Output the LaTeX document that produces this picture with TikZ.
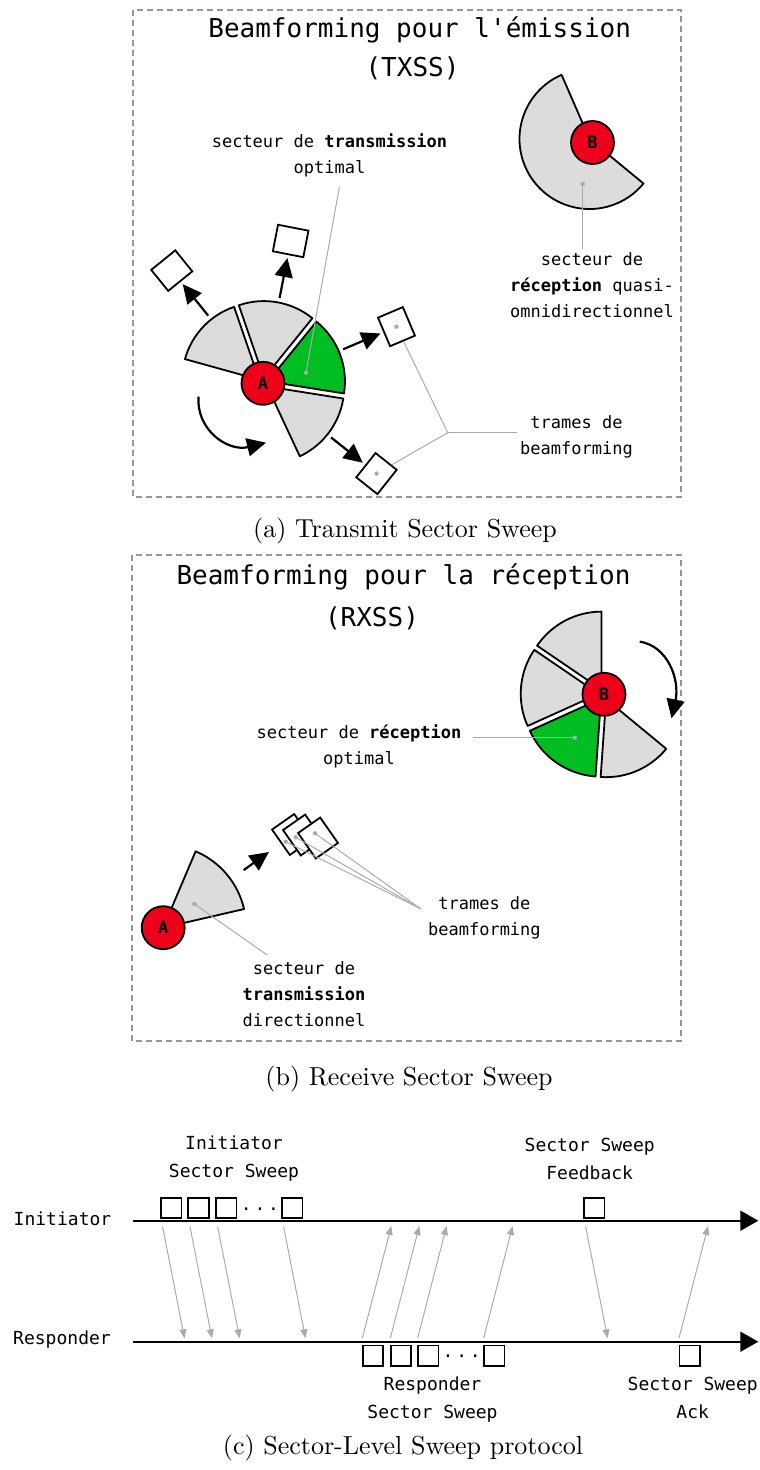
\documentclass[tikz,border=0pt]{standalone}
\usepackage{fontspec}
\setmonofont{DejaVu Sans Mono}
\newfontfamily\capfont{lmroman10-regular.otf}
\usetikzlibrary{positioning, arrows.meta, calc}
\definecolor{SectorGray}{RGB}{220,220,220}
\definecolor{SectorGreen}{RGB}{0,190,34}
\definecolor{StationRed}{RGB}{238,0,26}
\definecolor{LeaderGray}{RGB}{170,170,170}
\definecolor{PanelGray}{RGB}{150,150,150}
\tikzstyle{panel} = [PanelGray, line width=1.4pt, dash pattern=on 6pt off 4pt]
\tikzstyle{sector} = [draw=black, line width=1.8pt, line join=round]
\tikzstyle{station} = [circle, draw=black, line width=1.8pt, fill=StationRed, minimum size=43pt, inner sep=0pt, font=\ttfamily\bfseries\fontsize{17}{17}\selectfont]
\tikzstyle{trame} = [draw=black, line width=1.8pt, fill=white, minimum width=27pt, minimum height=31pt, inner sep=0pt]
\tikzstyle{slot} = [draw=black, line width=1.8pt, fill=white, minimum size=20.5pt, inner sep=0pt]
\tikzstyle{beam} = [line width=2.2pt, -{Triangle[length=19pt,width=18pt]}]
\tikzstyle{leader} = [LeaderGray, line width=1pt]
\tikzstyle{msg} = [LeaderGray, line width=1pt, -{Triangle[length=9pt,width=7pt]}]
\tikzstyle{timeline} = [line width=2pt, -{Triangle[length=18pt,width=20pt]}]
\tikzstyle{title} = [font=\ttfamily\fontsize{26}{38}\selectfont, inner sep=0pt]
\tikzstyle{lbl} = [font=\ttfamily\fontsize{17}{26}\selectfont, align=center]
\tikzstyle{tlbl} = [font=\ttfamily\fontsize{18}{28}\selectfont, align=center]
\tikzstyle{caption} = [font=\capfont\fontsize{26}{31}\selectfont]

\begin{document}
\begin{tikzpicture}[x=1pt, y=1pt]
    \useasboundingbox (0,0) rectangle (760,-1470);

    % (a) Transmit Sector Sweep
    \draw[panel] (133,-10) rectangle (681,-497);
    \node[title] (titleTx) at (419.7,-30) {Beamforming pour l'émission};
    \node[title] (modeTx) at (412.5,-68.3) {(TXSS)};

    % Station A and its sectors
    \coordinate (A) at (263,-383.3);
    \foreach \from/\to/\col in {109/164.5/SectorGray, 51/109/SectorGray, -9/51/SectorGreen, -65/-9/SectorGray}
        \draw[sector, fill=\col] ($(A)+({(\from+\to)/2}:5.3)$) -- ++(\from:77) arc[start angle=\from, end angle=\to, radius=77] -- cycle;
    \node[station] (stA) at (A) {A};

    % Beamforming frames
    \foreach \ang [count=\i] in {129, 79, 23, -38.5} {
        \node[trame, rotate=\ang] (fa\i) at ($(A)+(\ang:145)$) {};
        \draw[beam, shorten >=3pt] ($(A)+(\ang:87)$) -- (fa\i);
    }

    % Sweep direction
    \draw[beam] (198.6,-396.7) .. controls (196,-430) and (228,-452) .. (266,-442.7);

    % Station B, quasi-omni sector
    \coordinate (B) at (592.5,-142.5);
    \draw[sector, fill=SectorGray] ($(B)+(-3,3.5)$) -- ++(113.5:70) arc[start angle=113.5, end angle=320.5, radius=70] -- cycle;
    \node[station] (stB) at (B) {B};

    % Labels
    \coordinate (optPin) at ($(A)+(43,10.7)$);
    \node[lbl] (optTx) at (329.5,-155.8) {secteur de \textbf{transmission}\\optimal};
    \coordinate (optEnd) at (339.4,-186.7);
    \draw[leader] (optPin) -- (optEnd);
    \fill[LeaderGray] (optPin) circle (2.2);

    \coordinate (rxPin) at (582.7,-184);
    \node[lbl] (rxTx) at (592,-285) {secteur de\\\textbf{réception} quasi-\\omnidirectionnel};
    \draw[leader] (rxPin) -- (rxPin |- rxTx.north);
    \fill[LeaderGray] (rxPin) circle (2.2);

    \node[lbl] (tramesTx) at (576.5,-436.7) {trames de\\beamforming};
    \coordinate (tramesTxJ) at (447.7,-432.7);
    \draw[leader] (fa3) -- (tramesTxJ) -- (fa4);
    \draw[leader] (tramesTxJ) -- (tramesTxJ -| tramesTx.west);
    \fill[LeaderGray] (fa3) circle (2.2);
    \fill[LeaderGray] (fa4) circle (2.2);

    \node[caption] (capTx) at (405,-531) {(a) Transmit Sector Sweep};

    % (b) Receive Sector Sweep
    \draw[panel] (132,-555) rectangle (681,-1041);
    \node[title] (titleRx) at (403.5,-576.7) {Beamforming pour la réception};
    \node[title] (modeRx) at (372,-618.3) {(RXSS)};

    % Station B and its sectors
    \coordinate (B2) at (604,-694.3);
    \foreach \from/\to/\col in {90/145.7/SectorGray, 145.7/204.3/SectorGray, 204.3/266/SectorGreen, 266/320.5/SectorGray}
        \draw[sector, fill=\col] ($(B2)+({(\from+\to)/2}:5.3)$) -- ++(\from:78) arc[start angle=\from, end angle=\to, radius=78] -- cycle;
    \node[station] (stB2) at (B2) {B};
    \draw[beam] (639.7,-641.6) .. controls (668,-646) and (680,-680) .. (671.5,-718.3);

    \coordinate (rxOptPin) at (574.8,-737.7);
    \node[lbl] (rxOpt) at (359,-746) {secteur de \textbf{réception}\\optimal};
    \draw[leader] (rxOptPin) -- ($(rxOpt.east |- rxOptPin)+(8,0)$);
    \fill[LeaderGray] (rxOptPin) circle (2.2);

    % Station A, directional sector
    \coordinate (A2) at (163.2,-927.7);
    \draw[sector, fill=SectorGray] (A2) -- ++(13:83) arc[start angle=13, end angle=67, radius=83] -- cycle;
    \node[station] (stA2) at (A2) {A};
    \coordinate (beamEnd) at ($(A2)+(35.6:130)$);
    \draw[beam] ($(A2)+(35.6:99)$) -- (beamEnd);

    \foreach \x/\y [count=\i] in {292/-834.5, 303/-835, 318/-838}
        \node[trame, rotate=35] (fb\i) at (\x,\y) {};

    \node[lbl] (tramesRx) at (484.4,-917.4) {trames de\\beamforming};
    \coordinate (tramesRxJ) at (421,-909);
    \foreach \x/\y [count=\i] in {285.7/-841.7, 295.7/-837.3, 315/-833.3} {
        \coordinate (fbPin\i) at (\x,\y);
        \draw[leader] (fbPin\i) -- (tramesRxJ);
        \fill[LeaderGray] (fbPin\i) circle (2.2);
    }

    \coordinate (txDirPin) at (194.3,-904);
    \node[lbl] (txDir) at (304,-994.5) {secteur de\\\textbf{transmission}\\directionnel};
    \coordinate (txDirEnd) at (267.2,-955);
    \draw[leader] (txDirPin) -- (txDirEnd);
    \fill[LeaderGray] (txDirPin) circle (2.2);

    \node[caption] (capRx) at (409,-1079) {(b) Receive Sector Sweep};

    % (c) Sector-Level Sweep protocol
    \node[tlbl] (ini) at (62.5,-1218.3) {Initiator};
    \node[tlbl] (resp) at (62,-1340) {Responder};
    \coordinate (I0) at (132.7,-1220.7);
    \coordinate (I1) at (758.3,-1220.7);
    \coordinate (R0) at (132.7,-1341.7);
    \coordinate (R1) at (758.3,-1341.7);
    \draw[timeline] (I0) -- (I1);
    \draw[timeline] (R0) -- (R1);

    \foreach \x [count=\i] in {171.2, 198.6, 226.3, 292.2}
        \node[slot, anchor=south] (is\i) at (\x,-1219) {};
    \node[tlbl, anchor=base] (isDots) at (260,-1215) {·\hspace{2.8pt}·\hspace{2.8pt}·};
    \node[slot, anchor=south] (fb) at (594.3,-1219) {};
    \foreach \x [count=\i] in {373, 401, 428.3, 494.3}
        \node[slot, anchor=north] (rs\i) at (\x,-1344.5) {};
    \node[tlbl, anchor=base] (rsDots) at (461.7,-1362.7) {·\hspace{2.8pt}·\hspace{2.8pt}·};
    \node[slot, anchor=north] (ack) at (689.7,-1344.5) {};

    \node[tlbl] (isLbl) at (234,-1158.3) {Initiator\\Sector Sweep};
    \node[tlbl] (fbLbl) at (589.7,-1159) {Sector Sweep\\Feedback};
    \node[tlbl] (rsLbl) at (432.5,-1400) {Responder\\Sector Sweep};
    \node[tlbl] (ackLbl) at (692.7,-1398.4) {Sector Sweep\\Ack};

    \foreach \s in {is1, is2, is3, is4, fb}
        \draw[msg] ($(\s.south west)+(2.5,-7.5)$) -- ($(\s.south west |- R0)+(24.5,3.4)$);
    \foreach \s in {rs1, rs2, rs3, rs4, ack}
        \draw[msg] ($(\s.north west)+(0.5,6.5)$) -- ($(\s.north west |- I0)+(29.5,-5.3)$);

    \node[caption] (capSls) at (403,-1448) {(c) Sector-Level Sweep protocol};
\end{tikzpicture}
\end{document}
